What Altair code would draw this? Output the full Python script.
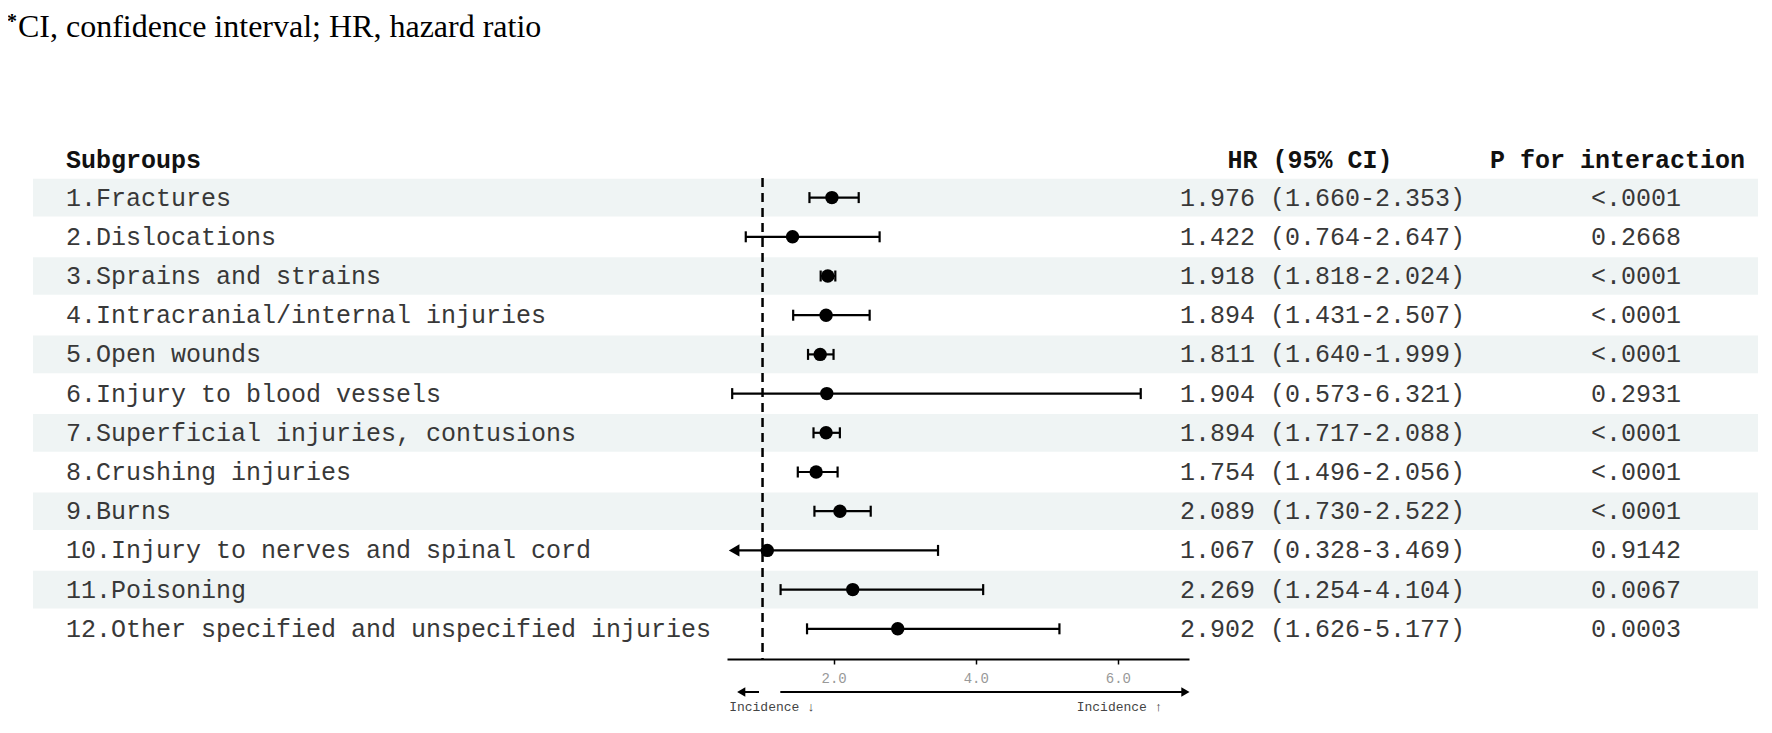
import altair as alt
import pandas as pd

subgroups = [
    "1.Fractures", "2.Dislocations", "3.Sprains and strains",
    "4.Intracranial/internal injuries", "5.Open wounds",
    "6.Injury to blood vessels", "7.Superficial injuries, contusions",
    "8.Crushing injuries", "9.Burns", "10.Injury to nerves and spinal cord",
    "11.Poisoning", "12.Other specified and unspecified injuries",
]
hr = [1.976, 1.422, 1.918, 1.894, 1.811, 1.904, 1.894, 1.754, 2.089, 1.067, 2.269, 2.902]
ci_lo = [1.660, 0.764, 1.818, 1.431, 1.640, 0.573, 1.717, 1.496, 1.730, 0.328, 1.254, 1.626]
ci_hi = [2.353, 2.647, 2.024, 2.507, 1.999, 6.321, 2.088, 2.056, 2.522, 3.469, 4.104, 5.177]
p_values = ["<.0001", "0.2668", "<.0001", "<.0001", "<.0001", "0.2931",
            "<.0001", "<.0001", "<.0001", "0.9142", "0.0067", "0.0003"]
x_ticks = [2, 4, 6]
x_domain = [0.5, 7]
ref_value = [1]
arrow_labels = ["Incidence \u2193", "Incidence \u2191"]
arrow_label_x = [0.53, 5.42]
arrow_shafts_a = [0.70, 1.25]
arrow_shafts_b = [0.95, 6.95]
arrow_heads_x = [0.70, 6.95]
arrow_heads_shape = ["triangle-left", "triangle-right"]

MONO = "Liberation Mono"
SERIF = "Liberation Serif"
W, H = 462, 481
PAD = {"left": 719, "top": 170, "right": 569, "bottom": 59}

arrow_pos = 0.6
rows = list(range(1, len(subgroups) + 1))
df = pd.DataFrame({
    "row": rows,
    "label": subgroups,
    "hr": hr,
    "lo": ci_lo,
    "hi": ci_hi,
    "p": p_values,
})
df["lo_draw"] = [l if l >= x_domain[0] else arrow_pos for l in ci_lo]
df["hrtext"] = [f"{h:.3f} ({l:.3f}-{u:.3f})" for h, l, u in zip(hr, ci_lo, ci_hi)]
df["y0"] = df["row"] - 0.48
df["y1"] = df["row"] + 0.48

stripes = df[df["row"] % 2 == 1]
caps = pd.concat([
    pd.DataFrame({"row": df["row"], "x": df["hi"]}),
    pd.DataFrame({"row": df["row"][df["lo"] >= x_domain[0]], "x": df["lo"][df["lo"] >= x_domain[0]]}),
])
cut = df[df["lo"] < x_domain[0]].assign(ax=arrow_pos)

xs = alt.Scale(domain=x_domain, nice=False, zero=False)
ys = alt.Scale(domain=[0.5, 12.77], reverse=True, nice=False, zero=False)
AX = alt.Axis(values=x_ticks, format=".1f", title=None, grid=False,
              domainColor="black", domainWidth=2, tickColor="black",
              tickWidth=1.5, tickSize=5, labelColor="#999999", labelFont=MONO,
              labelFontSize=14, labelPadding=7, orient="bottom")


def X(f):
    return alt.X(f, type="quantitative", scale=xs, axis=AX)


def Y(f):
    return alt.Y(f, type="quantitative", scale=ys, axis=None)


stripe_layer = alt.Chart(stripes).mark_rect(color="#eff4f4").encode(
    x=alt.value(-694), x2=alt.value(1031), y=Y("y0"), y2=alt.Y2("y1"))

ref_layer = alt.Chart(pd.DataFrame({"ref": ref_value})).mark_rule(
    color="black", strokeWidth=2.5, strokeDash=[9, 6]).encode(
    x=X("ref"), y=alt.value(0), y2=alt.value(H))

ci_layer = alt.Chart(df).mark_rule(color="black", strokeWidth=2.2).encode(
    x=X("lo_draw"), x2=alt.X2("hi"), y=Y("row"))

cap_layer = alt.Chart(caps).mark_tick(
    orient="vertical", size=11, thickness=2.2, color="black", opacity=1).encode(
    x=X("x"), y=Y("row"))

point_layer = alt.Chart(df).mark_circle(size=180, color="black", opacity=1).encode(
    x=X("hr"), y=Y("row"))

cut_layer = alt.Chart(cut).mark_point(
    shape="triangle-left", filled=True, size=150, color="black", opacity=1).encode(
    x=X("ax"), y=Y("row"))

label_layer = alt.Chart(df).mark_text(
    align="left", baseline="middle", font=MONO, fontSize=25, color="#383838").encode(
    x=alt.value(-661), y=Y("row"), text="label:N")

hr_layer = alt.Chart(df).mark_text(
    align="left", baseline="middle", font=MONO, fontSize=25, color="#383838").encode(
    x=alt.value(453), y=Y("row"), text="hrtext:N")

p_layer = alt.Chart(df).mark_text(
    align="center", baseline="middle", font=MONO, fontSize=25, color="#383838").encode(
    x=alt.value(909), y=Y("row"), text="p:N")

headers = pd.DataFrame({
    "text": ["Subgroups", "HR (95% CI)", "P for interaction"],
    "px": [-661, 583, 763],
    "al": ["left", "center", "left"],
})
head_layers = [
    alt.Chart(headers.iloc[[i]]).mark_text(
        align=headers["al"][i], baseline="middle", font=MONO, fontSize=25,
        fontWeight="bold", color="#111111").encode(
        x=alt.value(int(headers["px"][i])), y=alt.value(-18), text="text:N")
    for i in range(len(headers))
]

title_df = pd.DataFrame({"t": ["CI, confidence interval; HR, hazard ratio"], "s": ["*"]})
title_layer = alt.Chart(title_df).mark_text(
    align="left", baseline="alphabetic", font=SERIF, fontSize=32, color="black").encode(
    x=alt.value(-709), y=alt.value(-141), text="t:N")
star_layer = alt.Chart(title_df).mark_text(
    align="left", baseline="alphabetic", font=SERIF, fontSize=20, fontWeight="bold",
    color="black").encode(x=alt.value(-720), y=alt.value(-150), text="s:N")

arrows = pd.DataFrame({"a": arrow_shafts_a, "b": arrow_shafts_b,
                       "hx": arrow_heads_x, "shape": arrow_heads_shape,
                       "lx": arrow_label_x, "lab": arrow_labels})
shaft_layer = alt.Chart(arrows).mark_rule(color="black", strokeWidth=2).encode(
    x=X("a"), x2=alt.X2("b"), y=alt.value(514))
head_layer = alt.Chart(arrows).mark_point(filled=True, size=90, color="black", opacity=1).encode(
    x=X("hx"), y=alt.value(514), shape=alt.Shape("shape:N", scale=None))
arrow_text_layer = alt.Chart(arrows).mark_text(
    align="left", baseline="middle", font=MONO, fontSize=13, color="#444444").encode(
    x=X("lx"), y=alt.value(529), text="lab:N")

chart = alt.layer(
    stripe_layer, ref_layer, ci_layer, cap_layer, point_layer, cut_layer,
    label_layer, hr_layer, p_layer, *head_layers, title_layer, star_layer,
    shaft_layer, head_layer, arrow_text_layer,
).properties(
    width=W, height=H, padding=PAD, autosize=alt.AutoSizeParams(type="none"),
).configure_view(strokeWidth=0)

chart.save("out.html", embed_options={"renderer": "svg", "actions": False})
